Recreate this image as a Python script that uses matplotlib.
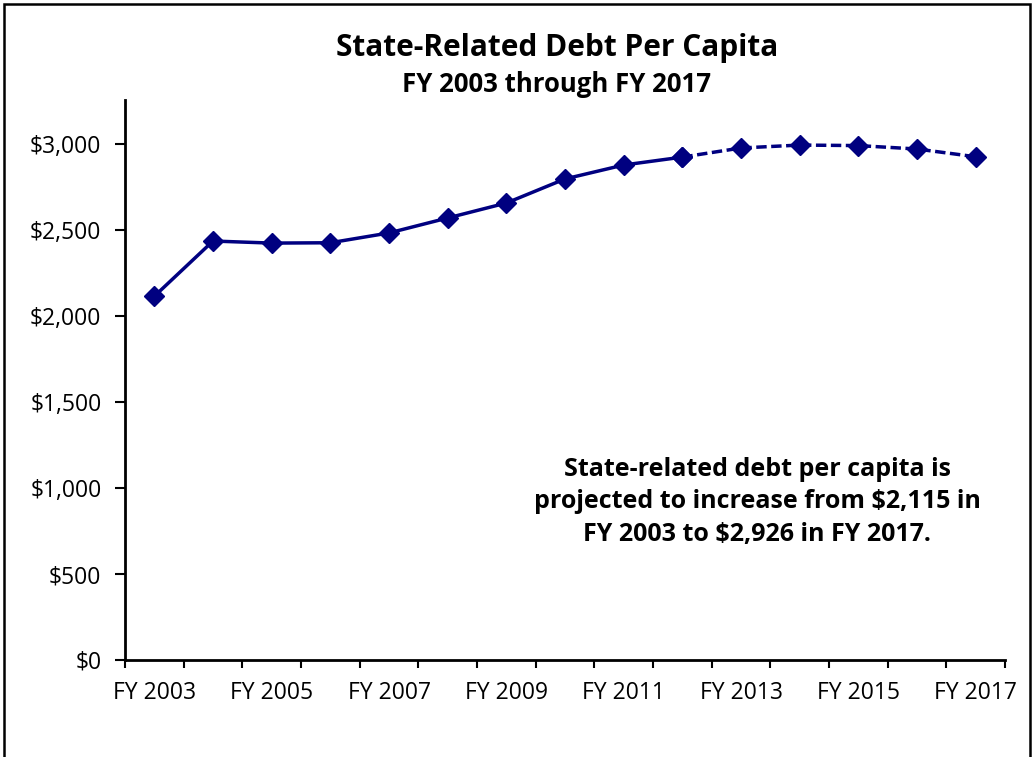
import matplotlib.pyplot as plt
from matplotlib.patches import Rectangle
from matplotlib.ticker import FuncFormatter

plt.rcParams['font.family'] = ['Open Sans', 'DejaVu Sans']

# data
years = ['FY 2003', 'FY 2004', 'FY 2005', 'FY 2006', 'FY 2007', 'FY 2008',
         'FY 2009', 'FY 2010', 'FY 2011', 'FY 2012', 'FY 2013', 'FY 2014',
         'FY 2015', 'FY 2016', 'FY 2017']
debt = [2115, 2436, 2424, 2426, 2483, 2570, 2657, 2797, 2878, 2924,
        2977, 2994, 2991, 2971, 2926]
last_actual = 9  # FY 2012, dashed afterwards (projection)

navy = '#000080'

fig = plt.figure(figsize=(10.34, 7.57), dpi=100)
ax = fig.add_axes([125 / 1034, 1 - 660 / 757, 880 / 1034, 560 / 757])

x = list(range(len(years)))
ax.plot(x[:last_actual + 1], debt[:last_actual + 1], color=navy, lw=2.5,
        marker='D', markersize=10)
ax.plot(x[last_actual:], debt[last_actual:], color=navy, lw=2.5,
        linestyle=(0, (3, 1.3)), marker='D', markersize=10)

ax.set_xlim(-0.5, len(years) - 0.5)
ax.set_ylim(0, 3256)
ax.set_yticks(range(0, 3001, 500))
ax.yaxis.set_major_formatter(FuncFormatter(lambda v, p: '${:,.0f}'.format(v)))

# category ticks between points, labels every other year
ax.set_xticks([i - 0.5 for i in range(len(years) + 1)])
ax.set_xticklabels([])
ax.set_xticks(x[::2], minor=True)
ax.set_xticklabels(years[::2], minor=True)
ax.tick_params(axis='x', which='minor', length=0, pad=15, labelsize=16.5)
ax.tick_params(axis='x', which='major', length=6, width=1.5, direction='out')
ax.tick_params(axis='y', length=7, width=1.5, labelsize=16.5, pad=10)

for s in ['top', 'right']:
    ax.spines[s].set_visible(False)
for s in ['left', 'bottom']:
    ax.spines[s].set_linewidth(2)

fig.text(557 / 1034, 1 - 48 / 757, 'State-Related Debt Per Capita',
         ha='center', va='center', fontsize=21.5, fontweight='bold')
fig.text(557 / 1034, 1 - 85 / 757, 'FY 2003 through FY 2017',
         ha='center', va='center', fontsize=18.5, fontweight='bold')

ax.text(757 / 1034, 1 - 502 / 757,
        'State-related debt per capita is\nprojected to increase from $2,115 in\nFY 2003 to $2,926 in FY 2017.',
        transform=fig.transFigure, ha='center', va='center', fontsize=18,
        fontweight='bold', linespacing=1.4)

# outer frame of the chart area
fig.patches.append(Rectangle((4 / 1034, -0.05), 1026 / 1034, 1.05 - 4 / 757,
                             transform=fig.transFigure, fill=False,
                             edgecolor='black', lw=1.8))

fig.savefig('out.png', dpi=100)
